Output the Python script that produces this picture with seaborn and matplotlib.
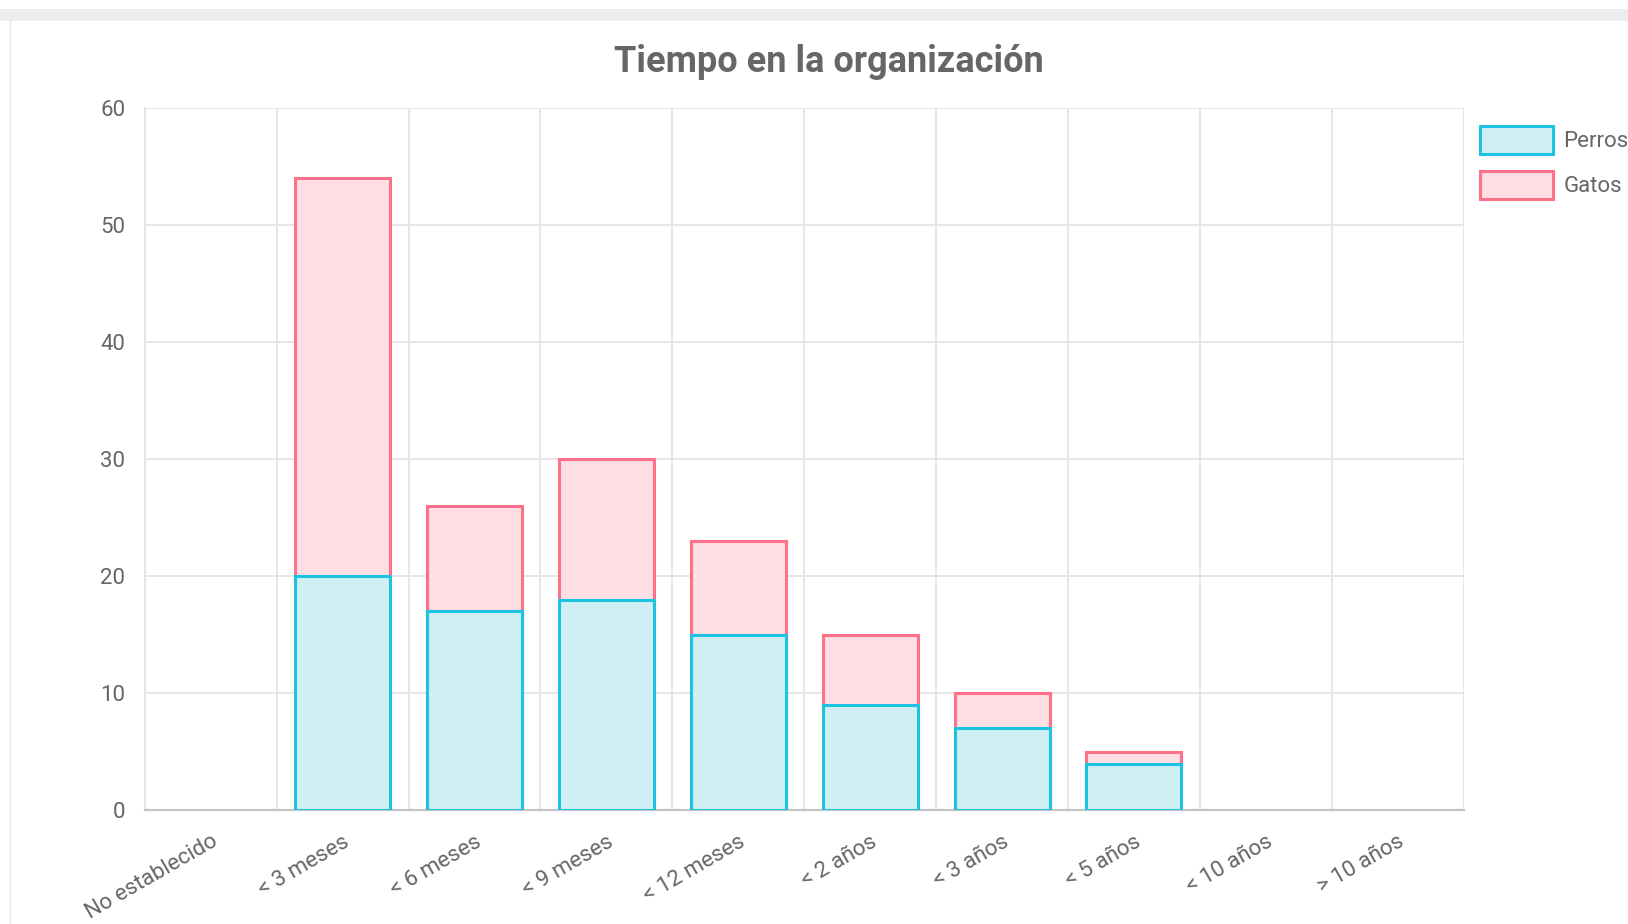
import matplotlib
matplotlib.use('Agg')
import matplotlib.pyplot as plt
import seaborn as sns
from matplotlib.patches import Patch, Rectangle
from matplotlib.lines import Line2D

categorias = ['No establecido', '< 3 meses', '< 6 meses', '< 9 meses', '< 12 meses',
              '< 2 años', '< 3 años', '< 5 años', '< 10 años', '> 10 años']
perros = [0, 20, 17, 18, 15, 9, 7, 4, 0, 0]
gatos = [0, 34, 9, 12, 8, 6, 3, 1, 0, 0]
y_ticks = [0, 10, 20, 30, 40, 50, 60]

color_perros = '#1ec3e1'
fondo_perros = '#cfeff5'
color_gatos = '#ff7189'
fondo_gatos = '#ffdfe4'
gris_texto = '#666666'
gris_grid = '#e4e4e4'

sns.set_style('white')
plt.rcParams['font.family'] = ['Roboto', 'DejaVu Sans']

fig = plt.figure(figsize=(16.28, 9.24), dpi=100)
ax = fig.add_axes([0.089, 0.123, 0.810, 0.760])

# stacked: total (gatos on top) first, then perros over it
totales = [p + g for p, g in zip(perros, gatos)]
sns.barplot(x=categorias, y=totales, ax=ax, color=fondo_gatos, saturation=1,
            edgecolor=color_gatos, linewidth=2.2, width=0.72, zorder=3)
sns.barplot(x=categorias, y=perros, ax=ax, color=fondo_perros, saturation=1,
            edgecolor=color_perros, linewidth=2.2, width=0.72, zorder=4)
for p in ax.patches:
    if p.get_height() == 0:
        p.set_visible(False)

ax.set_xlim(-0.5, len(categorias) - 0.5)
ax.set_ylim(0, 60)
ax.set_yticks(y_ticks)
ax.set_xlabel('')
ax.set_ylabel('')

# grid lines between categories, like chart.js offset grid
ax.set_xticks([i - 0.5 for i in range(len(categorias) + 1)], minor=True)
ax.grid(which='minor', axis='x', color=gris_grid, linewidth=1.3, zorder=0)
ax.grid(which='major', axis='y', color=gris_grid, linewidth=1.3, zorder=0)
ax.tick_params(axis='x', which='minor', length=16, color=gris_grid, width=1.3)
ax.tick_params(axis='x', which='major', length=0, pad=15, labelsize=16, labelcolor=gris_texto)
ax.tick_params(axis='y', which='major', length=12, color=gris_grid, width=1.3, pad=2,
               labelsize=16, labelcolor=gris_texto)
plt.setp(ax.get_xticklabels(), rotation=30, ha='right', rotation_mode='anchor')

for s in ['top', 'right']:
    ax.spines[s].set_visible(False)
ax.spines['left'].set_color(gris_grid)
ax.spines['left'].set_linewidth(1.3)
ax.spines['bottom'].set_color('#c4c4c4')
ax.spines['bottom'].set_linewidth(1.6)

fig.text(0.509, 0.933, 'Tiempo en la organización', ha='center', va='center',
         fontsize=26, fontweight='bold', color=gris_texto)

handles = [Patch(facecolor=fondo_perros, edgecolor=color_perros, linewidth=2.2, label='Perros'),
           Patch(facecolor=fondo_gatos, edgecolor=color_gatos, linewidth=2.2, label='Gatos')]
fig.legend(handles=handles, loc='upper left', bbox_to_anchor=(0.909, 0.864), frameon=False,
           fontsize=16, labelcolor=gris_texto, handlelength=3.3, handleheight=1.6,
           labelspacing=0.75, handletextpad=0.45, borderpad=0, borderaxespad=0)

# card frame of the dashboard screenshot
fig.patches.append(Rectangle((0, 1 - 21 / 924), 1, 12 / 924, transform=fig.transFigure,
                             facecolor='#ececec', edgecolor='none'))
fig.lines.append(Line2D([10 / 1628, 10 / 1628], [0, 1 - 21 / 924], transform=fig.transFigure,
                        color='#e6e6e6', linewidth=1))

fig.savefig('out.png', dpi=100)
